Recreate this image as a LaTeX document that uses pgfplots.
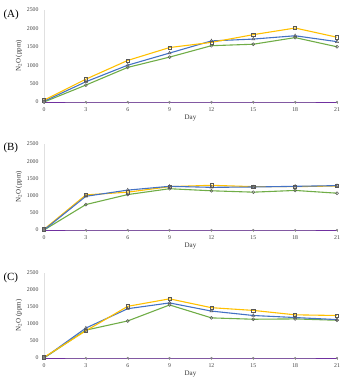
\documentclass[border=0pt]{standalone}
\usepackage{fontspec}
\setmainfont{Liberation Serif}
\usepackage{pgfplots}
\pgfplotsset{compat=1.18}
\definecolor{cy}{HTML}{FFC000}
\definecolor{cb}{HTML}{4472C4}
\definecolor{cg}{HTML}{70AD47}
\definecolor{cp}{HTML}{7030A0}
\pgfplotsset{
  panel/.style={
    scale only axis, width=293bp,
    xmin=0, xmax=21, ymin=0, ymax=2500,
    xtick={0,3,...,21}, ytick={0,500,...,2500},
    axis x line*=bottom, axis y line*=left,
    x axis line style={draw=black!35}, y axis line style={draw=black!12},
    xtick style={draw=black!35}, ytick style={draw=none},
    tick align=outside, major tick length=2bp,
    /pgf/number format/assume math mode=true,
    /pgf/number format/1000 sep={},
    tick label style={font=\fontsize{5.8}{6}\selectfont, text=black!75},
    xlabel={Day}, ylabel={N\textsubscript{2}O (ppm)},
    label style={font=\fontsize{7}{8}\selectfont, text=black!80},
    xlabel style={yshift=3pt}, ylabel style={yshift=-2pt},
    clip=false,
    every axis plot/.append style={line width=1.1pt},
  },
  sy/.style={cy, mark=square, mark size=1.6pt, mark options={draw=black!65, line width=0.5pt, fill=none}},
  sb/.style={cb, mark=triangle, mark size=1.8pt, mark options={draw=black!65, line width=0.5pt, fill=none}},
  sg/.style={cg, mark=o, mark size=1.5pt, mark options={draw=black!65, line width=0.5pt, fill=none}},
  sp/.style={cp, line width=0.8pt, mark=*, mark size=0.9pt, mark options={draw=black!50, fill=black!40, line width=0.3pt}},
}
\begin{document}
\begin{tikzpicture}
\useasboundingbox (0bp,0bp) rectangle (341bp,-380bp);
% Panel A
\begin{axis}[panel, height=92bp, at={(44bp,-102bp)}, anchor=south west]
\addplot[sg] coordinates {(0,0) (3,460) (6,940) (9,1220) (12,1530) (15,1570) (18,1750) (21,1500)};
\addplot[sb] coordinates {(0,20) (3,550) (6,1000) (9,1330) (12,1660) (15,1710) (18,1800) (21,1640)};
\addplot[sy] coordinates {(0,50) (3,620) (6,1130) (9,1480) (12,1620) (15,1830) (18,2010) (21,1760)};
\addplot[sp] coordinates {(0,0) (3,0) (6,0) (9,0) (12,0) (15,0) (18,0) (21,0)};
\end{axis}
\node[anchor=west, font=\fontsize{11}{12}\selectfont] at (0bp,-15bp) {(A)};
% Panel B
\begin{axis}[panel, height=86bp, at={(44bp,-230bp)}, anchor=south west]
\addplot[sg] coordinates {(0,0) (3,740) (6,1030) (9,1200) (12,1140) (15,1100) (18,1150) (21,1070)};
\addplot[sy] coordinates {(0,20) (3,1020) (6,1100) (9,1260) (12,1300) (15,1260) (18,1260) (21,1280)};
\addplot[sb] coordinates {(0,0) (3,980) (6,1160) (9,1270) (12,1240) (15,1250) (18,1270) (21,1290)};
\addplot[sp] coordinates {(0,0) (3,0) (6,0) (9,0) (12,0) (15,0) (18,0) (21,0)};
\end{axis}
\node[anchor=west, font=\fontsize{11}{12}\selectfont] at (0bp,-148bp) {(B)};
% Panel C
\begin{axis}[panel, height=85bp, at={(44bp,-358bp)}, anchor=south west]
\addplot[sg] coordinates {(0,0) (3,820) (6,1090) (9,1560) (12,1180) (15,1140) (18,1150) (21,1110)};
\addplot[sb] coordinates {(0,0) (3,880) (6,1450) (9,1620) (12,1380) (15,1250) (18,1190) (21,1130)};
\addplot[sy] coordinates {(0,20) (3,800) (6,1520) (9,1740) (12,1480) (15,1400) (18,1270) (21,1250)};
\addplot[sp] coordinates {(0,0) (3,0) (6,0) (9,0) (12,0) (15,0) (18,0) (21,0)};
\end{axis}
\node[anchor=west, font=\fontsize{11}{12}\selectfont] at (0bp,-278bp) {(C)};
\end{tikzpicture}
\end{document}
